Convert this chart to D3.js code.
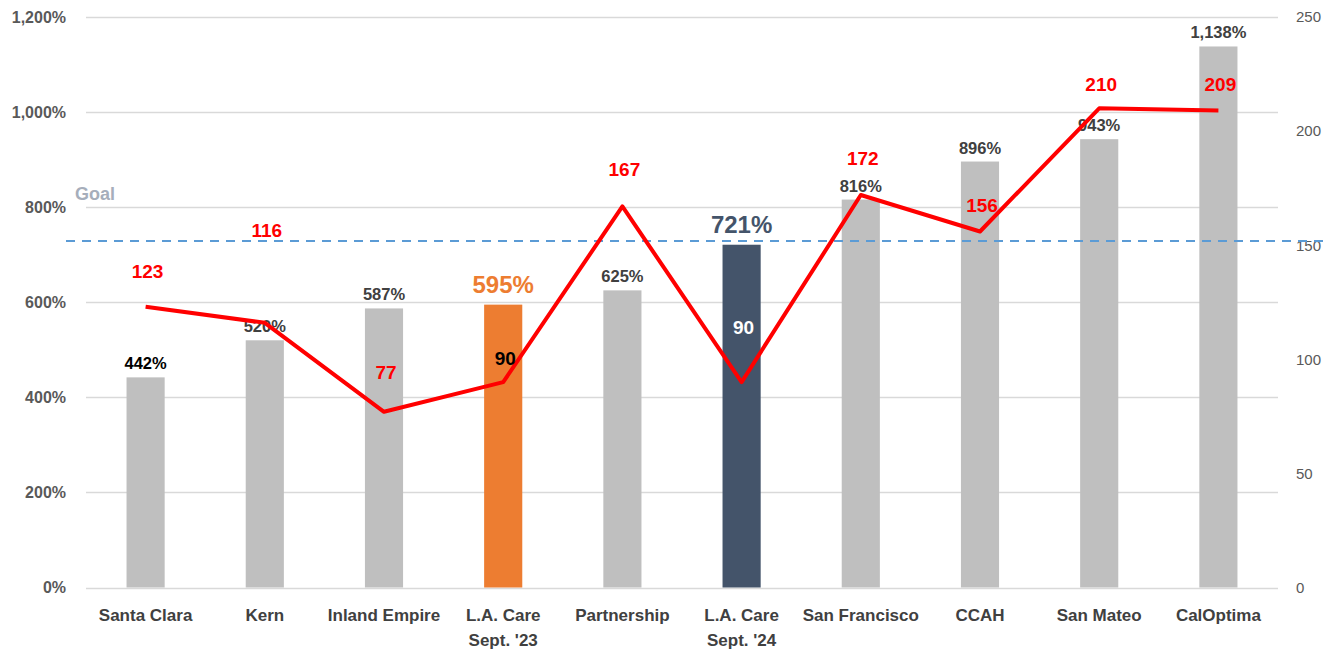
<!DOCTYPE html>
<html>
<head>
<meta charset="utf-8">
<script src="https://cdn.jsdelivr.net/npm/d3@7"></script>
<style>
  body { margin: 0; background: #fff; }
  svg text { font-family: "Liberation Sans", Arial, sans-serif; }
</style>
</head>
<body>
<svg id="chart" width="1335" height="653"></svg>
<script>
// data
var categories = [ "Santa Clara", "Kern", "Inland Empire", "L.A. Care\nSept. '23", "Partnership",
                   "L.A. Care\nSept. '24", "San Francisco", "CCAH", "San Mateo", "CalOptima" ];
var pctValues = [ 442, 520, 587, 595, 625, 721, 816, 896, 943, 1138 ];
var lineValues = [ 123, 116, 77, 90, 167, 90, 172, 156, 210, 209 ];
var goalPct = 729;
var leftTicks = [ 0, 200, 400, 600, 800, 1000, 1200 ];
var rightTicks = [ 0, 50, 100, 150, 200, 250 ];

// hand-placed line label offsets (pixels above the point), like the source chart
var lineLabelDy = [ -36, -93, -40, -24, -37, -55, -37, -27, -24, -27 ];

var MARGIN = { left: 86, right: 57, top: 17, bottom: 65 };
var W = 1335, H = 653;

var svg = d3.select( "#chart" );

var x = d3.scaleBand()
  .domain( d3.range( categories.length ) )
  .range( [ MARGIN.left, W - MARGIN.right ] )
  .paddingInner( 0.68 )
  .paddingOuter( 0.34 );

var yL = d3.scaleLinear().domain( [ 0, 1200 ] ).range( [ H - MARGIN.bottom - 0.5, MARGIN.top ] );
var yR = d3.scaleLinear().domain( [ 0, 250 ] ).range( [ H - MARGIN.bottom - 0.5, MARGIN.top ] );

function barColor( i ){
  if( i == 3 ) return "#ED7D31";
  if( i == 5 ) return "#44546A";
  return "#BFBFBF";
}

// gridlines
svg.append( "g" )
  .selectAll( "line" )
  .data( leftTicks )
  .join( "line" )
  .attr( "x1", MARGIN.left )
  .attr( "x2", W - MARGIN.right )
  .attr( "y1", function( d ){ return Math.round( yL( d ) ) + 0.5; } )
  .attr( "y2", function( d ){ return Math.round( yL( d ) ) + 0.5; } )
  .attr( "stroke", "#D9D9D9" )
  .attr( "stroke-width", 1.3 );

// left axis
var axL = svg.append( "g" )
  .attr( "transform", "translate(" + ( MARGIN.left - 17 ) + ",0)" )
  .call( d3.axisLeft( yL ).tickValues( leftTicks ).tickSize( 0 ).tickFormat( function( d ){ return d3.format( "," )( d ) + "%"; } ) );
axL.select( ".domain" ).remove();
axL.selectAll( "text" )
  .attr( "fill", "#595959" )
  .style( "font-size", "16px" )
  .style( "font-weight", "bold" );

// right axis
var axR = svg.append( "g" )
  .attr( "transform", "translate(" + ( W - MARGIN.right + 15 ) + ",0)" )
  .call( d3.axisRight( yR ).tickValues( rightTicks ).tickSize( 0 ) );
axR.select( ".domain" ).remove();
axR.selectAll( "text" )
  .attr( "fill", "#595959" )
  .style( "font-size", "15px" );

// bars
svg.append( "g" )
  .selectAll( "rect" )
  .data( pctValues )
  .join( "rect" )
  .attr( "x", function( d, i ){ return x( i ); } )
  .attr( "width", x.bandwidth() )
  .attr( "y", function( d ){ return yL( d ); } )
  .attr( "height", function( d ){ return yL( 0 ) - yL( d ); } )
  .attr( "fill", function( d, i ){ return barColor( i ); } );

// bar labels
svg.append( "g" )
  .selectAll( "text" )
  .data( pctValues )
  .join( "text" )
  .attr( "x", function( d, i ){ return x( i ) + x.bandwidth() / 2; } )
  .attr( "y", function( d, i ){ return yL( d ) - ( i == 3 || i == 5 ? 12 : 8 ); } )
  .attr( "text-anchor", "middle" )
  .attr( "fill", function( d, i ){
    if( i == 0 ) return "#000";
    if( i == 3 ) return "#ED7D31";
    if( i == 5 ) return "#44546A";
    return "#404040";
  } )
  .style( "font-size", function( d, i ){ return ( i == 3 || i == 5 ) ? "24px" : "16.5px"; } )
  .style( "font-weight", "bold" )
  .text( function( d ){ return d3.format( "," )( d ) + "%"; } );

// goal line
svg.append( "line" )
  .attr( "x1", 66 )
  .attr( "x2", 1326 )
  .attr( "y1", yL( goalPct ) )
  .attr( "y2", yL( goalPct ) )
  .attr( "stroke", "#5B9BD5" )
  .attr( "stroke-width", 2 )
  .attr( "stroke-dasharray", "9,7" );

svg.append( "text" )
  .attr( "x", 75 )
  .attr( "y", 200 )
  .attr( "fill", "#A6AEBB" )
  .style( "font-size", "18px" )
  .style( "font-weight", "bold" )
  .text( "Goal" );

// line series
var line = d3.line()
  .x( function( d, i ){ return x( i ) + x.bandwidth() / 2; } )
  .y( function( d ){ return yR( d ); } );

svg.append( "path" )
  .datum( lineValues )
  .attr( "d", line )
  .attr( "fill", "none" )
  .attr( "stroke", "#FF0000" )
  .attr( "stroke-width", 4 )
  .attr( "stroke-linejoin", "round" );

svg.append( "g" )
  .selectAll( "text" )
  .data( lineValues )
  .join( "text" )
  .attr( "x", function( d, i ){ return x( i ) + x.bandwidth() / 2 + 2; } )
  .attr( "y", function( d, i ){ return yR( d ) + lineLabelDy[ i ] + 7; } )
  .attr( "text-anchor", "middle" )
  .attr( "fill", function( d, i ){
    if( i == 3 ) return "#000";
    if( i == 5 ) return "#fff";
    return "#FF0000";
  } )
  .style( "font-size", "19px" )
  .style( "font-weight", "bold" )
  .text( function( d ){ return d; } );

// category labels
var cat = svg.append( "g" )
  .selectAll( "text" )
  .data( categories )
  .join( "text" )
  .attr( "x", function( d, i ){ return x( i ) + x.bandwidth() / 2; } )
  .attr( "y", 621 )
  .attr( "text-anchor", "middle" )
  .attr( "fill", "#404040" )
  .style( "font-size", "17px" )
  .style( "font-weight", "bold" );

cat.selectAll( "tspan" )
  .data( function( d ){ return d.split( "\n" ); } )
  .join( "tspan" )
  .attr( "x", function(){ return d3.select( this.parentNode ).attr( "x" ); } )
  .attr( "dy", function( d, i ){ return i == 0 ? 0 : 25; } )
  .text( function( d ){ return d; } );
</script>
</body>
</html>
